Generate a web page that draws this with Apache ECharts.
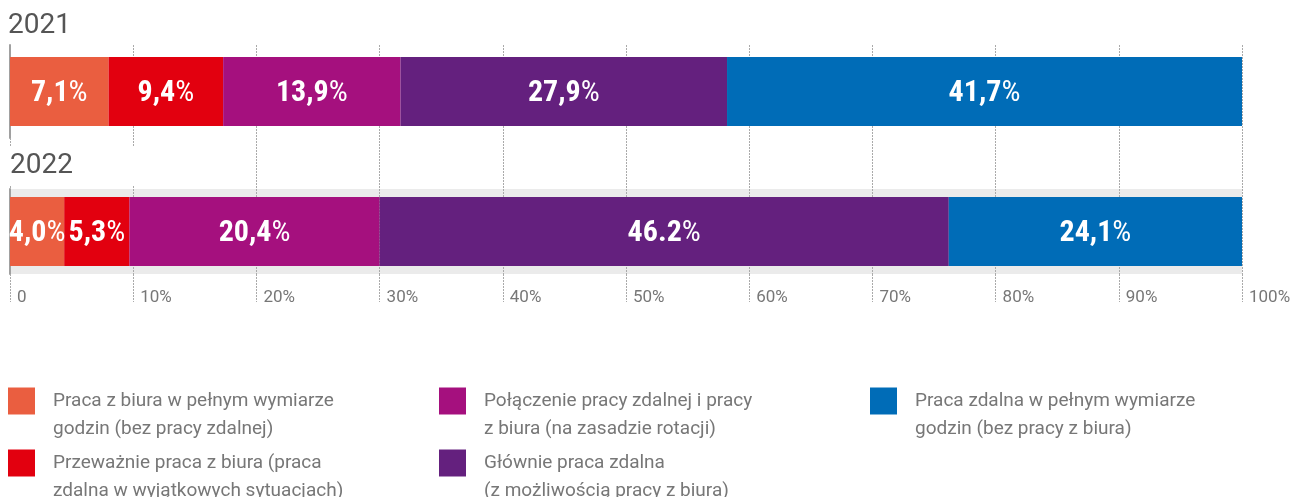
<!DOCTYPE html>
<html><head><meta charset="utf-8">
<script src="https://cdn.jsdelivr.net/npm/echarts@6/dist/echarts.min.js"></script>
<style>html,body{margin:0;padding:0;background:#fff}#c{width:1296px;height:497px}</style>
</head><body><div id="c"></div>
<script>
const years = ['2021', '2022'];
const seriesNames = [
  'Praca z biura w pełnym wymiarze\ngodzin (bez pracy zdalnej)',
  'Przeważnie praca z biura (praca\nzdalna w wyjątkowych sytuacjach)',
  'Połączenie pracy zdalnej i pracy\nz biura (na zasadzie rotacji)',
  'Głównie praca zdalna\n(z możliwością pracy z biura)',
  'Praca zdalna w pełnym wymiarze\ngodzin (bez pracy z biura)'
];
const colors = ['#EA5E40', '#E2000F', '#A5107E', '#64207E', '#006CB7'];
const values2021 = [8.0, 9.3, 14.4, 26.5, 41.8];
const values2022 = [4.4, 5.3, 20.3, 46.2, 23.8];
const labels2021 = ['7,1', '9,4', '13,9', '27,9', '41,7'];
const labels2022 = ['4,0', '5,3', '20,4', '46.2', '24,1'];
const xTickLabels = ['0', '10%', '20%', '30%', '40%', '50%', '60%', '70%', '80%', '90%', '100%'];

const narrow = "'Roboto Condensed', 'Liberation Sans Narrow', 'DejaVu Sans Condensed', sans-serif";
const dotted = { color: '#aaa', width: 1, type: [2, 1] };

function makeSeries(values, labels, idx, stack) {
  return values.map((v, i) => ({
    type: 'bar', name: seriesNames[i], stack: stack,
    xAxisIndex: idx, yAxisIndex: idx,
    data: [v], barWidth: 69,
    itemStyle: { color: colors[i] },
    label: {
      show: true, position: 'inside', offset: [0, 2],
      formatter: () => '{n|' + labels[i] + '}{p|%}',
      rich: {
        n: { fontFamily: narrow, fontWeight: 'bold', fontSize: 30, color: '#fff' },
        p: { fontFamily: narrow, fontWeight: 'normal', fontSize: 30, color: '#fff' }
      }
    }
  }));
}

const legendLefts = [8, 8, 439, 439, 870];
const legendTops = [359, 421, 359, 421, 359];
const legends = seriesNames.map((n, i) => ({
  orient: 'vertical', icon: 'rect', itemWidth: 27, itemHeight: 27, itemGap: 0,
  padding: 0, left: legendLefts[i], top: legendTops[i], selectedMode: false,
  data: [n],
  formatter: name => '\n' + name,
  textStyle: { fontSize: 19, color: '#777', lineHeight: 28, padding: [0, 0, 0, 13], fontFamily: 'Roboto' }
}));

const option = {
  animation: false,
  backgroundColor: '#fff',
  title: [
    { text: years[0], left: 8, top: 12, padding: 0,
      textStyle: { fontSize: 28, color: '#555', fontWeight: 'normal', fontFamily: 'Roboto' } },
    { text: years[1], left: 0, top: 146, padding: [6, 67, 6, 10], backgroundColor: '#fff',
      textStyle: { fontSize: 28, color: '#555', fontWeight: 'normal', fontFamily: 'Roboto' } }
  ],
  legend: legends,
  grid: [
    { left: 10, width: 1232, top: 45, height: 93 },
    { left: 10, width: 1232, top: 189, height: 85, show: true, backgroundColor: '#ebebeb', borderWidth: 0 }
  ],
  xAxis: [
    { type: 'value', gridIndex: 0, min: 0, max: 100, interval: 10,
      axisLine: { show: false }, axisLabel: { show: false },
      axisTick: { show: true, length: 51, lineStyle: dotted },
      splitLine: { show: true, lineStyle: dotted } },
    { type: 'value', gridIndex: 1, min: 0, max: 100, interval: 10,
      axisLine: { show: false },
      axisTick: { show: true, length: 28, lineStyle: dotted },
      splitLine: { show: true, lineStyle: dotted },
      axisLabel: { show: true, align: 'left', padding: [0, 0, 0, 7], margin: 15,
        color: '#777', fontSize: 17, fontFamily: 'Roboto',
        formatter: v => xTickLabels[Math.round(v / 10)] } }
  ],
  yAxis: [
    { type: 'category', gridIndex: 0, data: [years[0]],
      axisLine: { show: true, lineStyle: { color: '#a0a0a0', width: 2 } },
      axisTick: { show: false }, axisLabel: { show: false } },
    { type: 'category', gridIndex: 1, data: [years[1]],
      axisLine: { show: true, lineStyle: { color: '#a0a0a0', width: 2 } },
      axisTick: { show: false }, axisLabel: { show: false } }
  ],
  series: makeSeries(values2021, labels2021, 0, 'a').concat(makeSeries(values2022, labels2022, 1, 'b'))
};

echarts.init(document.getElementById('c')).setOption(option);
</script></body></html>
